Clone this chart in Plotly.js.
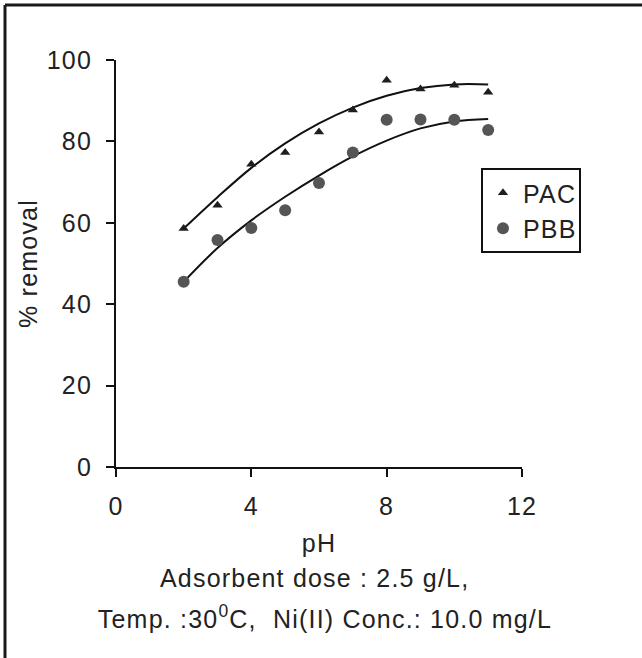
<!DOCTYPE html>
<html>
<head>
<meta charset="utf-8">
<script src="https://cdn.plot.ly/plotly-3.0.1.min.js"></script>
<style>
  html, body { margin: 0; padding: 0; background: #fff; }
  #chart { width: 642px; height: 658px; }
  #chart .main-svg text { letter-spacing: 1.2px; }
</style>
</head>
<body>
<div id="chart"></div>
<script>
// ---- data ----
const pH = [2, 3, 4, 5, 6, 7, 8, 9, 10, 11];
const pacRemoval = [58.6, 64.3, 74.4, 77.3, 82.3, 87.7, 95.0, 92.9, 93.8, 92.1];
const pbbRemoval = [45.5, 55.8, 58.7, 63.1, 69.8, 77.3, 85.3, 85.4, 85.3, 82.8];
// trend curves as drawn in the reference (read at each pH)
const pacTrend = [58.6, 66.3, 73.5, 79.5, 84.4, 88.3, 91.2, 93.1, 94.0, 94.0];
const pbbTrend = [45.5, 53.8, 60.6, 66.4, 71.6, 76.3, 80.2, 83.2, 84.9, 85.5];
const seriesNames = ['PAC', 'PBB'];
const xTicks = [0, 4, 8, 12];
const yTicks = [0, 20, 40, 60, 80, 100];
const xTitle = 'pH';
const yTitle = '% removal';
const noteLine1 = 'Adsorbent dose : 2.5 g/L,';
const noteLine2 = 'Temp. :30<sup>0</sup>C,  Ni(II) Conc.: 10.0 mg/L';

const FONT = '"Liberation Sans", Arial, sans-serif';
const FS = 25;
const TXT = '#222';
const f = () => ({ family: FONT, size: FS, color: TXT });

const traces = [
  { x: pH, y: pacTrend, mode: 'lines', line: { color: '#111', width: 2, shape: 'spline' },
    showlegend: false, hoverinfo: 'skip' },
  { x: pH, y: pbbTrend, mode: 'lines', line: { color: '#111', width: 2, shape: 'spline' },
    showlegend: false, hoverinfo: 'skip' },
  { x: pH, y: pacRemoval, mode: 'markers', name: seriesNames[0],
    marker: { symbol: 'triangle-up', size: 9, color: '#1e1e1e' } },
  { x: pH, y: pbbRemoval, mode: 'markers', name: seriesNames[1],
    marker: { symbol: 'circle', size: 12, color: '#555555' } }
];

// plot area: x 116..522 px, y 60..467 px
const layout = {
  width: 642, height: 658,
  margin: { l: 116, r: 120, t: 60, b: 191, pad: 0 },
  paper_bgcolor: '#fff', plot_bgcolor: '#fff',
  font: f(),
  xaxis: {
    range: [0, 12], tickvals: xTicks, ticktext: xTicks.map(String),
    showgrid: false, zeroline: false,
    showline: true, linecolor: '#111', linewidth: 2,
    ticks: 'outside', ticklen: 8, tickwidth: 2, tickcolor: '#111',
    tickfont: f(),
    ticklabelstandoff: 8,
    title: { text: xTitle, font: f(), standoff: 15 },
    fixedrange: true
  },
  yaxis: {
    range: [0, 100], tickvals: yTicks, ticktext: yTicks.map(String),
    showgrid: false, zeroline: false,
    showline: true, linecolor: '#111', linewidth: 2,
    ticks: 'outside', ticklen: 8, tickwidth: 2, tickcolor: '#111',
    tickfont: f(),
    ticklabelstandoff: 9,
    title: { text: yTitle, font: f(), standoff: 6 },
    fixedrange: true
  },
  legend: {
    x: 0.8990, y: 0.7346, xanchor: 'left', yanchor: 'top',
    bgcolor: '#fff', bordercolor: '#111', borderwidth: 2,
    font: f(),
    itemwidth: 30,
    entrywidth: 102
  },
  annotations: [
    { text: noteLine1, xref: 'paper', yref: 'paper', x: 0.4877, y: -0.2727,
      xanchor: 'center', yanchor: 'middle', showarrow: false, font: f() },
    { text: noteLine2, xref: 'paper', yref: 'paper', x: 0.5148, y: -0.3686,
      xanchor: 'center', yanchor: 'middle', showarrow: false, font: f() }
  ],
  shapes: [
    // outer frame (left and top edges visible)
    { type: 'line', xref: 'paper', yref: 'paper', x0: -0.2734, x1: -0.2734, y0: 1.1351, y1: -0.55,
      line: { color: '#1a1a1a', width: 3 } },
    { type: 'line', xref: 'paper', yref: 'paper', x0: -0.2734, x1: 1.35, y0: 1.1351, y1: 1.1351,
      line: { color: '#1a1a1a', width: 3 } }
  ]
};

Plotly.newPlot('chart', traces, layout, { displayModeBar: false, staticPlot: true });
</script>
</body>
</html>
